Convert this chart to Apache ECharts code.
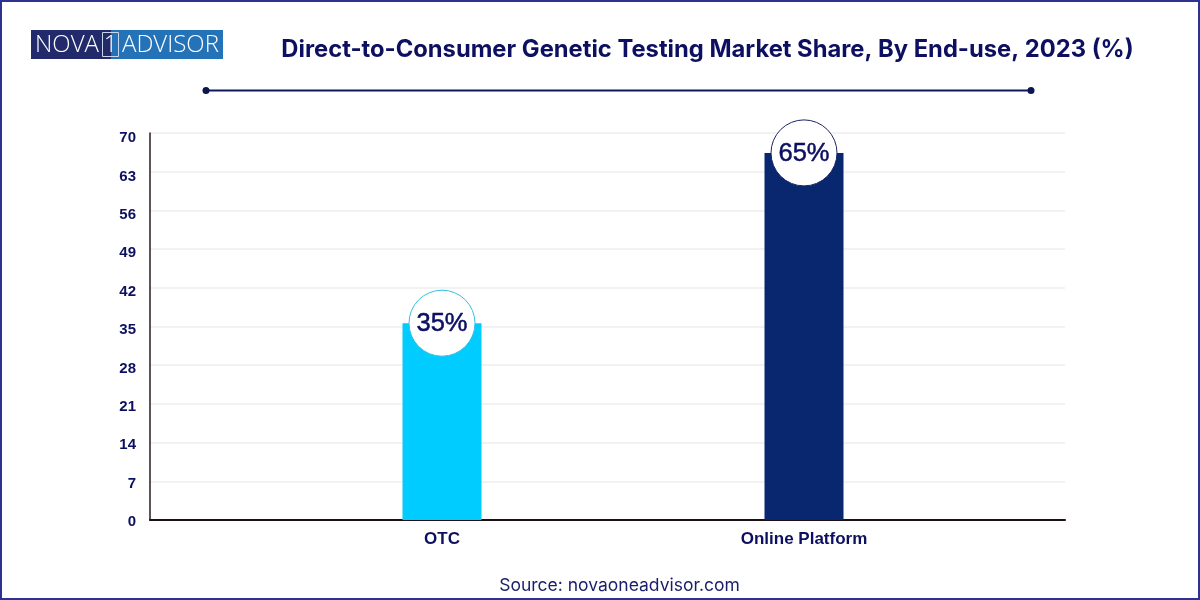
<!DOCTYPE html>
<html><head><meta charset="utf-8">
<style>html,body{margin:0;padding:0;background:#fff}#c{width:1200px;height:600px}</style>
<script src="https://cdn.jsdelivr.net/npm/echarts@6/dist/echarts.min.js"></script>
</head><body><div id="c"></div>
<script>
const categories = ["OTC", "Online Platform"];
const barHeights = [35.6, 66.4];
const shareLabels = ["35%", "65%"];
const barColors = ["#00CCFF", "#08276F"];
const ringColors = ["#35BFE0", "#1B2468"];
const axisMax = 70, axisStep = 7;
const titleText = "Direct-to-Consumer Genetic Testing Market Share, By End-use, 2023 (%)";
const sourceText = "Source: novaoneadvisor.com";
const navy = "#0D1060";

const chart = echarts.init(document.getElementById('c'), null, {renderer:'canvas'});
chart.setOption({
  animation:false,
  backgroundColor:'#fff',
  grid:[
    {left:150,right:135,top:133,bottom:80},
    {left:261,right:215,top:133,bottom:80},
    {left:150,right:135,top:138,bottom:78}
  ],
  xAxis:[
    {gridIndex:0,type:'category',data:categories,axisTick:{show:false},axisLabel:{show:false},
     axisLine:{lineStyle:{color:'#1a1015',width:2}},splitLine:{show:false}},
    {gridIndex:1,type:'category',data:categories,axisTick:{show:false},axisLine:{show:false},
     axisLabel:{color:navy,fontFamily:'"Liberation Sans"',fontWeight:'bold',fontSize:17,margin:11}},
    {gridIndex:2,type:'category',data:categories,show:false}
  ],
  yAxis:[
    {gridIndex:0,type:'value',min:0,max:axisMax,interval:axisStep,
     axisLine:{show:true,lineStyle:{color:'#2a1a25',width:1.5}},axisTick:{show:false},
     axisLabel:{show:false},
     splitLine:{show:true,lineStyle:{color:'#F2F2F2',width:2}}},
    {gridIndex:1,type:'value',min:0,max:axisMax,interval:axisStep,show:false},
    {gridIndex:2,type:'value',min:0,max:axisMax,interval:axisStep,
     axisLine:{show:false},axisTick:{show:false},splitLine:{show:false},
     axisLabel:{color:navy,fontFamily:'"Liberation Sans"',fontWeight:'bold',fontSize:15,margin:14}}
  ],
  series:[
    {type:'bar',xAxisIndex:1,yAxisIndex:1,barWidth:79,z:3,
     data:barHeights.map((v,i)=>({value:v,itemStyle:{color:barColors[i]}}))},
    {type:'scatter',xAxisIndex:1,yAxisIndex:1,symbol:'circle',symbolSize:66,z:5,clip:false,silent:true,
     data:barHeights.map((v,i)=>({value:[i,v],
       itemStyle:{color:'#fff',opacity:1,borderColor:ringColors[i],borderWidth:1},
       label:{show:true,position:'inside',offset:[0,1],formatter:shareLabels[i],color:navy,opacity:1,
              fontFamily:'"Liberation Sans"',fontWeight:'normal',fontSize:25.5,
              textBorderColor:navy,textBorderWidth:0.5}}))}
  ],
  graphic:[
    {type:'rect',silent:true,z:100,shape:{x:1,y:1,width:1198,height:598},style:{fill:'none',stroke:'#2E3192',lineWidth:2}},
    {type:'rect',silent:true,z:100,shape:{x:31,y:30,width:192,height:29},style:{fill:'#2472B8'}},
    {type:'rect',silent:true,z:100,shape:{x:31,y:30,width:80,height:29},style:{fill:'#232A6B'}},
    {type:'rect',silent:true,z:101,shape:{x:102.5,y:32.5,width:16,height:24},style:{fill:'none',stroke:'#C9D6EA',lineWidth:1}},
    {type:'text',silent:true,z:102,style:{x:35,y:45,text:'NOVA',fill:'#fff',font:'300 24px "Open Sans"',textVerticalAlign:'middle'}},
    {type:'text',silent:true,z:102,style:{x:110.5,y:45,text:'1',fill:'#fff',font:'300 24px "Open Sans"',textAlign:'center',textVerticalAlign:'middle'}},
    {type:'text',silent:true,z:102,style:{x:122,y:45,text:'ADVISOR',fill:'#fff',font:'300 24px "Open Sans"',textVerticalAlign:'middle'}},
    {type:'text',silent:true,z:102,style:{x:707.5,y:50,text:titleText,fill:navy,font:'bold 23.75px Inter',textAlign:'center',textVerticalAlign:'middle'}},
    {type:'line',silent:true,z:102,shape:{x1:206,y1:90.5,x2:1031,y2:90.5},style:{stroke:'#10175E',lineWidth:2}},
    {type:'circle',silent:true,z:102,shape:{cx:206,cy:90.5,r:3.5},style:{fill:'#0B1650'}},
    {type:'circle',silent:true,z:102,shape:{cx:1031,cy:90.5,r:3.5},style:{fill:'#0B1650'}},
    {type:'text',silent:true,z:102,style:{x:619.5,y:586,text:sourceText,fill:'#1A1F6B',font:'400 17.5px Inter',textAlign:'center',textVerticalAlign:'middle'}}
  ]
});
</script></body></html>
